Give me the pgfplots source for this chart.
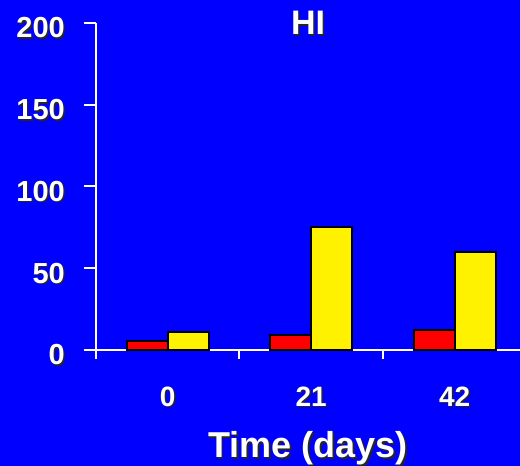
\documentclass[border=0pt]{standalone}
\usepackage{pgfplots}
\pgfplotsset{compat=1.18}
\usepackage{pgfplotstable}
\usepackage{fontspec}
\setmainfont{Liberation Sans}
\definecolor{slideblue}{RGB}{0,0,255}
% white text with a dark drop shadow
\newcommand\sh[1]{\leavevmode\rlap{\hspace{1.5pt}\raisebox{-1.5pt}{\color{black!85}#1}}#1}

\pgfplotstableread{
x red yellow
0 5.5 11
1 9 75.5
2 12 60
}\hiData

\begin{document}
\begin{tikzpicture}
\useasboundingbox (0,0) rectangle (520pt,466pt);
\fill[slideblue] (0,0) rectangle (520pt,466pt);
\begin{axis}[
  at={(96pt,116pt)}, anchor=south west,
  scale only axis, width=424pt, height=327pt,
  xmin=-0.5, xmax=2.455, ymin=0, ymax=200,
  axis lines*=left,
  axis line style={white, line width=2pt},
  x axis line style={shorten <=-12pt},
  tick align=outside,
  major tick length=12pt,
  minor tick length=9pt,
  ytick={0,50,100,150,200},
  yticklabel={\sh{\pgfmathprintnumber[assume math mode=true]{\tick}}},
  yticklabel style={font=\fontsize{29}{29}\selectfont\bfseries, text=white, anchor=base east, inner sep=0pt, xshift=-19pt, yshift=-15pt},
  ytick style={white, line width=2pt},
  xtick={0,1,2},
  xticklabels={\sh{0},\sh{21},\sh{42}},
  major x tick style={draw=none},
  minor xtick={-0.5,0.5,1.5},
  minor x tick style={white, line width=2pt},
  xticklabel style={font=\fontsize{28}{28}\selectfont\bfseries, text=white, anchor=base, inner sep=0pt, yshift=-44pt},
  title={\sh{HI}},
  title style={font=\fontsize{34}{34}\selectfont\bfseries, text=white, at={(rel axis cs:0.5,1)}, anchor=base, yshift=-18pt, inner sep=0pt},
  xlabel={\sh{Time (days)}},
  xlabel style={font=\fontsize{36}{36}\selectfont\bfseries, text=white, at={(rel axis cs:0.5,0)}, anchor=base, yshift=-108pt, inner sep=0pt},
  ybar=0pt, bar width=41pt,
  clip=false,
]
\addplot[ybar, fill=red, draw=black, line width=2pt] table[x=x, y=red] {\hiData};
\addplot[ybar, fill=yellow, draw=black, line width=2pt] table[x=x, y=yellow] {\hiData};
\end{axis}
\end{tikzpicture}
\end{document}
